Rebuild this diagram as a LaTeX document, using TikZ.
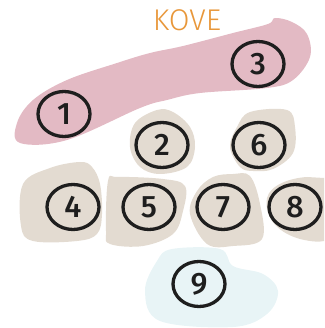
\documentclass[tikz,border=0pt]{standalone}
\usepackage{fontspec}
\setmainfont{Fira Sans}
\newfontfamily\ringfont{Fira Sans}[UprightFont=* Medium]
\newfontfamily\titlefont{Fira Sans}[UprightFont=* Light]
\usetikzlibrary{shapes.geometric}
\definecolor{blobpink}{HTML}{E3BAC4}
\definecolor{blobbeige}{HTML}{E3DBD1}
\definecolor{blobblue}{HTML}{E8F4F6}
\definecolor{titleorange}{HTML}{E8973A}
\definecolor{ringdark}{HTML}{1E1E1E}
\begin{document}
\begin{tikzpicture}[
    x=1pt, y=-1pt,
    blob/.style={draw=none, smooth cycle, tension=0.6},
    ring/.style={ellipse, draw=ringdark, line width=3.3pt,
                 minimum width=52pt, minimum height=45pt, inner sep=0pt,
                 text=ringdark, font=\ringfont\fontsize{31}{31}\selectfont},
    title/.style={text=titleorange, font=\titlefont\fontsize{30}{30}\selectfont},
]
\useasboundingbox (0,0) rectangle (324,328);

% Title
\node[title] (kove) at (187, 20) {KOVE};

% Pink band behind 1 and 3
\fill[blobpink] plot[blob] coordinates {
    (17,123) (33,100) (67,80) (117,63) (150,53) (183,46) (233,33)
    (268,24) (275,18) (292,22) (307,34) (310,57) (293,80) (267,88)
    (200,93) (167,100) (140,108) (67,140) (20,143)};

% Beige patches
\fill[blobbeige] plot[blob] coordinates {
    (157,110) (173,112) (190,127) (195,147) (187,167) (160,174)
    (140,167) (130,147) (135,123)};
\fill[blobbeige] plot[blob] coordinates {
    (250,112) (287,110) (295,127) (293,153) (273,169) (253,171)
    (240,167) (230,147) (237,127)};
\fill[blobbeige] plot[blob] coordinates {
    (23,184) (50,168) (80,162) (92,167) (100,184) (102,214) (97,234)
    (77,241) (33,241) (21,226)};
\fill[blobbeige] plot[blob] coordinates {
    (108,181) (118,177) (163,179) (185,186) (183,211) (173,234)
    (143,246) (110,244) (106,231)};
\fill[blobbeige] plot[blob] coordinates {
    (233,174) (250,176) (260,204) (262,239) (233,246) (207,244)
    (190,214) (197,191) (213,177)};
\fill[blobbeige] (324,178) -- (307,177) .. controls (290,178) and (270,185) .. (267,198)
    .. controls (264,215) and (275,232) .. (300,239)
    .. controls (312,242) and (320,242) .. (324,241) -- cycle;

% Light blue patch behind 9
\fill[blobblue] plot[blob] coordinates {
    (172,249) (220,249) (233,266) (263,274) (278,291) (267,314)
    (233,327) (160,321) (145,291) (157,261)};

% Numbered rings
\node[ring] (c1) at (64, 114) {1};
\node[ring] (c3) at (258, 64) {3};
\node[ring] (c2) at (162, 145) {2};
\node[ring] (c6) at (259, 145) {6};
\node[ring] (c4) at (73, 207) {4};
\node[ring] (c5) at (149, 207) {5};
\node[ring] (c7) at (223, 207) {7};
\node[ring] (c8) at (295, 207) {8};
\node[ring] (c9) at (199, 284) {9};
\end{tikzpicture}
\end{document}
